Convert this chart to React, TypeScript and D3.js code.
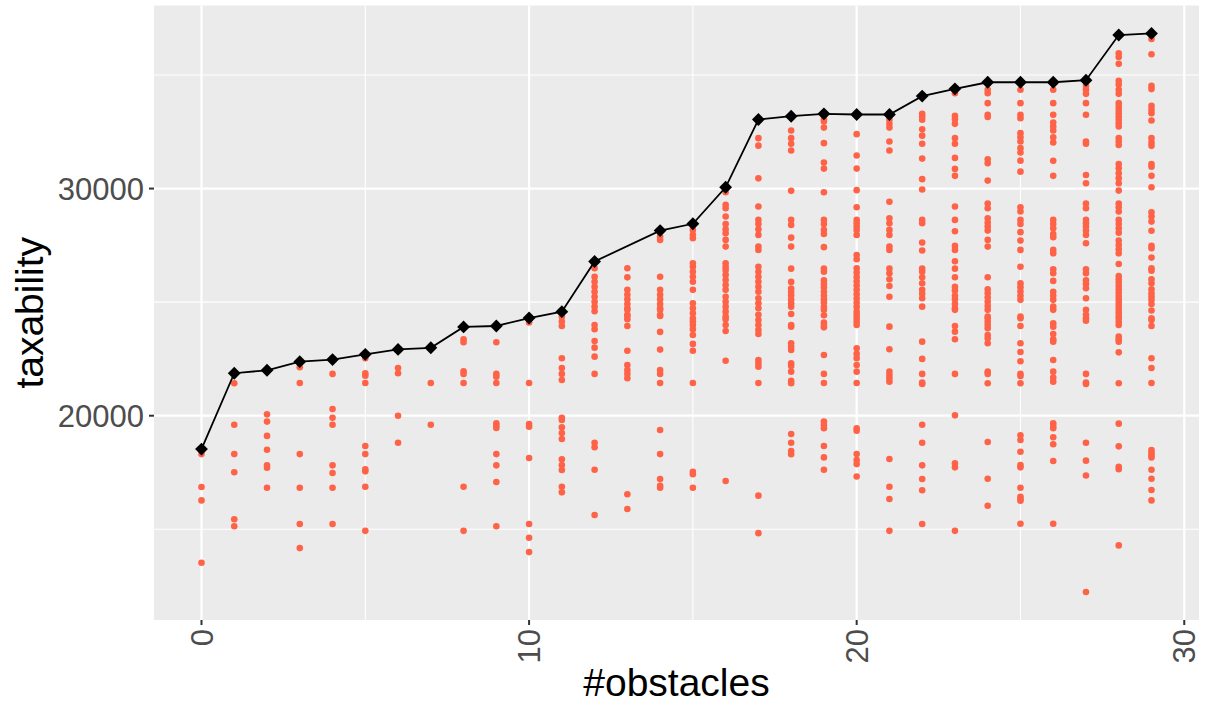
import React from "react";
import * as d3 from "d3";

// red points: taxability values per number of obstacles (index = #obstacles)
const taxability: number[][] = [
  [18530, 18310, 16860, 16270, 13525],
  [21870, 21430, 19600, 18310, 17510, 15440, 15130],
  [22000, 20060, 19740, 19110, 18500, 17815, 17710, 16830],
  [22380, 22130, 21440, 18310, 16830, 15230, 14170],
  [22470, 21840, 20295, 19910, 19600, 17815, 17475, 16830, 15230],
  [22700, 22530, 21870, 21760, 21440, 18665, 18310, 17640, 17550, 16870, 14930],
  [22920, 22100, 21870, 20000, 18810],
  [22990, 21440, 19600],
  [23910, 23365, 23235, 21955, 21840, 21440, 16870, 14930],
  [23950, 23235, 21840, 21720, 21440, 19665, 19560, 19460, 18310, 17815, 17080, 15130],
  [24300, 24100, 21440, 19635, 19515, 18135, 15230, 14625, 13995],
  [24580, 24360, 24150, 23950, 22530, 22100, 21840, 21570, 19910, 19810, 19490, 19240, 18975, 18080, 17830, 17610, 16870, 16625],
  [26790, 26490, 26120, 25900, 25680, 25460, 25240, 25020, 24800, 24600, 23995, 23805, 23290, 22995, 22600, 21840, 18810, 18610, 17620, 15625],
  [26490, 26090, 25540, 25320, 25130, 24920, 24730, 24660, 24440, 24390, 24250, 23950, 22860, 22230, 22010, 21840, 21650, 16540, 15890],
  [28150, 27885, 27740, 26120, 25540, 25320, 25130, 24920, 24730, 24660, 24440, 24390, 23690, 22910, 22010, 21840, 21440, 19370, 18310, 17210, 16915, 16830],
  [28450, 28180, 27960, 27810, 26710, 26560, 26340, 26120, 25900, 25540, 24950, 24730, 24510, 24290, 24150, 23995, 23805, 23555, 23160, 22860, 21440, 17530, 17420, 16830],
  [30057, 29840, 29280, 29135, 28770, 28440, 28210, 28030, 27740, 27445, 26710, 26560, 26420, 26200, 25970, 25750, 25540, 25240, 25020, 24800, 24580, 24360, 24250, 23995, 23730, 22420, 17125],
  [33040, 32220, 31890, 30450, 29210, 28620, 28440, 28210, 27960, 27445, 27300, 26560, 26340, 26120, 25900, 25680, 25460, 25170, 24950, 24730, 24440, 24215, 23995, 23775, 23600, 22450, 22310, 22160, 21440, 16480, 14830],
  [33185, 32555, 32220, 31970, 31675, 29900, 28620, 28400, 27840, 27445, 26475, 25890, 25600, 25450, 25300, 25120, 24950, 24800, 24480, 23995, 23920, 23190, 23040, 22895, 22310, 22190, 21940, 21540, 21430, 19195, 18810, 18445, 18300],
  [33290, 33055, 32950, 32685, 32000, 31145, 30880, 29840, 28620, 28440, 28180, 28000, 27420, 26475, 26340, 25960, 25810, 25640, 25460, 25280, 25130, 24980, 24790, 24660, 24420, 24100, 23995, 23890, 22670, 21840, 21440, 19740, 19590, 19445, 18665, 18165, 17620],
  [33260, 32395, 31455, 30880, 29930, 29180, 28620, 28470, 28330, 28180, 27960, 27070, 26890, 26490, 26300, 26110, 25920, 25730, 25540, 25350, 25160, 24970, 24790, 24580, 24435, 24290, 24140, 23995, 22970, 22720, 22530, 22230, 21940, 21440, 19445, 19340, 18310, 18050, 17870, 17325],
  [33260, 33030, 32850, 32685, 32070, 31675, 29420, 28690, 28475, 28180, 27960, 27445, 27300, 26475, 26270, 26010, 25710, 25240, 23920, 22925, 21940, 21790, 21650, 21500, 18095, 16870, 16330, 14930],
  [34070, 33290, 33170, 33030, 32610, 32330, 31970, 31320, 30415, 29960, 28620, 28475, 27620, 27270, 26475, 26340, 26090, 25830, 25540, 25370, 25170, 24800, 23260, 22500, 21840, 21455, 21400, 19600, 18810, 17815, 17210, 16715, 15230],
  [34390, 34200, 33200, 33055, 32850, 32220, 31970, 31350, 30865, 30560, 29210, 28620, 28120, 27475, 27300, 26800, 26475, 26095, 25670, 25510, 25280, 25130, 24920, 24730, 24660, 23950, 23700, 23365, 21840, 20015, 17900, 17725, 14930],
  [34680, 34350, 34200, 33760, 33250, 33150, 31290, 31120, 30350, 29340, 29135, 28690, 28500, 28325, 28150, 27740, 27445, 26095, 25570, 25390, 25200, 25020, 24830, 24660, 24360, 24290, 24140, 23995, 23850, 23555, 23410, 23190, 21940, 21840, 21430, 18840, 17225, 16035],
  [34680, 34350, 33760, 33250, 33100, 32440, 32260, 32070, 31780, 31585, 31230, 30745, 29180, 28990, 28620, 28440, 28080, 27710, 27300, 26560, 25830, 25660, 25470, 25280, 25100, 24360, 24290, 23950, 23190, 22805, 22395, 21840, 21750, 21430, 19135, 18930, 18415, 17830, 17725, 16830, 16430, 16330, 16255, 15245],
  [34680, 34350, 33760, 33250, 32910, 32735, 32560, 32260, 32030, 31220, 30560, 28620, 28440, 28250, 28000, 27860, 27300, 27150, 26450, 26270, 25935, 25460, 25280, 25100, 24800, 24660, 24070, 23920, 23600, 23365, 23260, 22455, 21940, 21675, 21500, 19665, 19545, 19445, 19050, 18740, 18005, 15245],
  [34770, 34520, 34350, 34170, 33760, 33250, 32070, 31970, 30600, 30235, 29340, 29135, 28620, 28475, 28330, 28150, 27960, 27590, 26450, 26270, 25960, 25800, 25610, 25170, 24660, 24440, 24290, 24185, 21840, 21455, 21400, 18810, 18020, 17370, 12235],
  [36760, 35960, 35790, 35490, 34750, 34580, 34350, 34170, 33760, 33610, 33470, 33320, 33170, 33030, 32880, 32735, 32220, 32070, 31920, 31080, 30890, 30670, 30450, 30235, 29910, 29340, 29180, 28990, 28620, 28440, 28255, 28060, 27710, 27520, 27330, 27150, 26680, 26150, 26010, 25860, 25710, 25560, 25420, 25270, 25120, 24970, 24830, 24680, 24540, 24400, 24290, 24140, 23995, 23480, 23365, 23260, 22790, 21430, 19650, 18650, 17755, 17640, 14290],
  [36830, 36590, 35915, 34520, 34380, 33640, 33470, 33320, 32995, 32220, 32030, 31880, 31080, 30960, 30560, 30060, 28960, 28770, 28545, 28140, 27475, 27375, 26960, 26490, 26385, 26010, 25830, 25570, 25390, 25250, 25100, 24920, 24630, 24290, 24215, 23950, 22530, 22100, 21440, 18490, 18370, 18270, 18165, 17620, 17225, 16730, 16270],
];

// black line: best taxability per #obstacles
const bestObstacles = [0, 1, 2, 3, 4, 5, 6, 7, 8, 9, 10, 11, 12, 14, 15, 16, 17, 18, 19, 20, 21, 22, 23, 24, 25, 26, 27, 28, 29];
const bestTaxability = [18530, 21870, 22000, 22380, 22470, 22700, 22920, 22990, 23910, 23950, 24300, 24580, 26790, 28150, 28450, 30057, 33040, 33185, 33290, 33260, 33260, 34070, 34390, 34680, 34680, 34680, 34770, 36760, 36830];

const xMajor = [0, 10, 20, 30];
const xMinor = [5, 15, 25];
const yMajor = [20000, 30000];
const yMinor = [15000, 25000, 35000];

const W = 1206;
const H = 704;
const left = 154;
const right = 1199;
const top = 5.5;
const bottom = 620;
const font = "'Liberation Sans', Arial, sans-serif";

export default function App() {
  const points = taxability.flatMap((vals, i) => vals.map((v) => ({ x: i, y: v })));
  const best = bestObstacles.map((x, i) => ({ x, y: bestTaxability[i] }));

  const xExt = [0, taxability.length - 1];
  const xPad = (xExt[1] - xExt[0]) * 0.05;
  const yExt = d3.extent(points.map((p) => p.y)) as [number, number];
  const yPad = (yExt[1] - yExt[0]) * 0.05;

  const x = d3.scaleLinear().domain([xExt[0] - xPad, xExt[1] + xPad]).range([left, right]);
  const y = d3.scaleLinear().domain([yExt[0] - yPad, yExt[1] + yPad]).range([bottom, top]);

  const line = d3
    .line<{ x: number; y: number }>()
    .x((d) => x(d.x))
    .y((d) => y(d.y));
  const diamond = d3.symbol().type(d3.symbolDiamond2).size(105)();

  return (
    <svg width={W} height={H} style={{ display: "block", position: "absolute", left: 0, top: 0 }}>
      <rect x={0} y={0} width={W} height={H} fill="white" />
      <rect x={left} y={top} width={right - left} height={bottom - top} fill="#EBEBEB" />
      {xMinor.map((v) => (
        <line key={"xm" + v} x1={x(v)} x2={x(v)} y1={top} y2={bottom} stroke="white" strokeWidth={1.1} />
      ))}
      {yMinor.map((v) => (
        <line key={"ym" + v} x1={left} x2={right} y1={y(v)} y2={y(v)} stroke="white" strokeWidth={1.1} />
      ))}
      {xMajor.map((v) => (
        <line key={"xM" + v} x1={x(v)} x2={x(v)} y1={top} y2={bottom} stroke="white" strokeWidth={2.2} />
      ))}
      {yMajor.map((v) => (
        <line key={"yM" + v} x1={left} x2={right} y1={y(v)} y2={y(v)} stroke="white" strokeWidth={2.2} />
      ))}

      {points.map((p, i) => (
        <circle key={i} cx={x(p.x)} cy={y(p.y)} r={3.3} fill="#FF6347" />
      ))}

      <path d={line(best) || ""} fill="none" stroke="black" strokeWidth={1.8} />
      {best.map((p, i) => (
        <path key={i} d={diamond || ""} transform={`translate(${x(p.x)},${y(p.y)})`} fill="black" />
      ))}

      {/* y axis */}
      {yMajor.map((v) => (
        <g key={"yt" + v}>
          <line x1={left - 5} x2={left} y1={y(v)} y2={y(v)} stroke="#333333" strokeWidth={2} />
          <text x={left - 10} y={y(v)} dy="0.36em" textAnchor="end" fill="#4D4D4D" fontSize={31} fontFamily={font}>
            {v}
          </text>
        </g>
      ))}
      <text
        transform={`translate(43,${(top + bottom) / 2}) rotate(-90)`}
        textAnchor="middle"
        fill="black"
        fontSize={39}
        fontFamily={font}
      >
        taxability
      </text>

      {/* x axis */}
      {xMajor.map((v) => (
        <g key={"xt" + v}>
          <line x1={x(v)} x2={x(v)} y1={bottom} y2={bottom + 5} stroke="#333333" strokeWidth={2} />
          <text
            transform={`translate(${x(v)},${bottom + 9}) rotate(-90)`}
            dy="0.36em"
            textAnchor="end"
            fill="#4D4D4D"
            fontSize={31}
            fontFamily={font}
          >
            {v}
          </text>
        </g>
      ))}
      <text x={(left + right) / 2} y={696} textAnchor="middle" fill="black" fontSize={39} fontFamily={font}>
        #obstacles
      </text>
    </svg>
  );
}
